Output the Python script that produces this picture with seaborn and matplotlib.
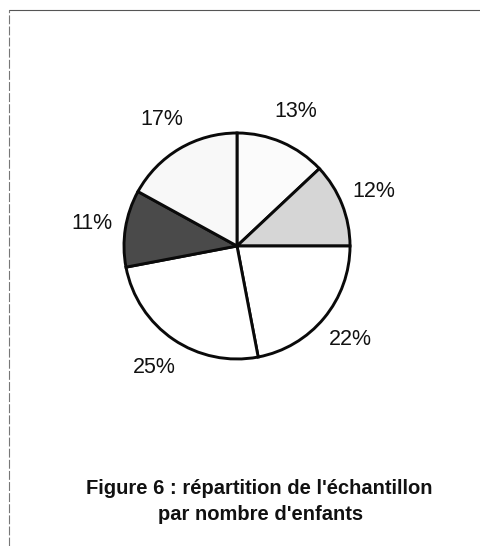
import matplotlib
matplotlib.use("Agg")
import matplotlib.pyplot as plt
import seaborn as sns
from matplotlib.lines import Line2D

# -------------------------------
# DATA
# -------------------------------

shares = [13, 12, 22, 25, 11, 17]
fills = ["#fbfbfb", "#d6d6d6", "#ffffff", "#ffffff", "#4a4a4a", "#f8f8f8"]
title_lines = ["Figure 6 : répartition de l'échantillon", "par nombre d'enfants"]

# -------------------------------
# STYLE
# -------------------------------

sns.set_theme(style="white")
plt.rcParams['font.family'] = ['Liberation Sans', 'DejaVu Sans']

W, H = 480, 546
fig = plt.figure(figsize=(W / 100, H / 100), dpi=100)
fig.patch.set_facecolor("white")

# axes spans the whole figure, 1 data unit = 1 pixel (y up)
ax = fig.add_axes([0, 0, 1, 1])

wedges, texts, autotexts = ax.pie(
    shares,
    colors=fills,
    startangle=90,
    counterclock=False,
    center=(237, H - 246),
    radius=113,
    autopct='%.0f%%',
    pctdistance=1.30,
    wedgeprops=dict(edgecolor="#0a0a0a", linewidth=2.1),
    textprops=dict(fontsize=15.5, color="#111111"),
)

ax.set_xlim(0, W)
ax.set_ylim(0, H)
ax.set_aspect("auto")
ax.axis("off")

# caption under the pie
ax.text(259, H - 488, title_lines[0], ha="center", va="center",
        fontsize=14.5, fontweight="bold", color="#111111")
ax.text(261, H - 515, title_lines[1], ha="center", va="center",
        fontsize=14.5, fontweight="bold", color="#111111")

# thin scanned frame: top and left edges
fig.add_artist(Line2D([9 / W, 1], [1 - 10 / H, 1 - 10 / H],
                      transform=fig.transFigure, color="#555555", linewidth=0.8))
fig.add_artist(Line2D([9 / W, 9 / W], [0, 1 - 10 / H],
                      transform=fig.transFigure, color="#777777", linewidth=0.8,
                      linestyle=(0, (8, 2))))

plt.savefig("out.png", dpi=100, facecolor="white")
plt.close()
